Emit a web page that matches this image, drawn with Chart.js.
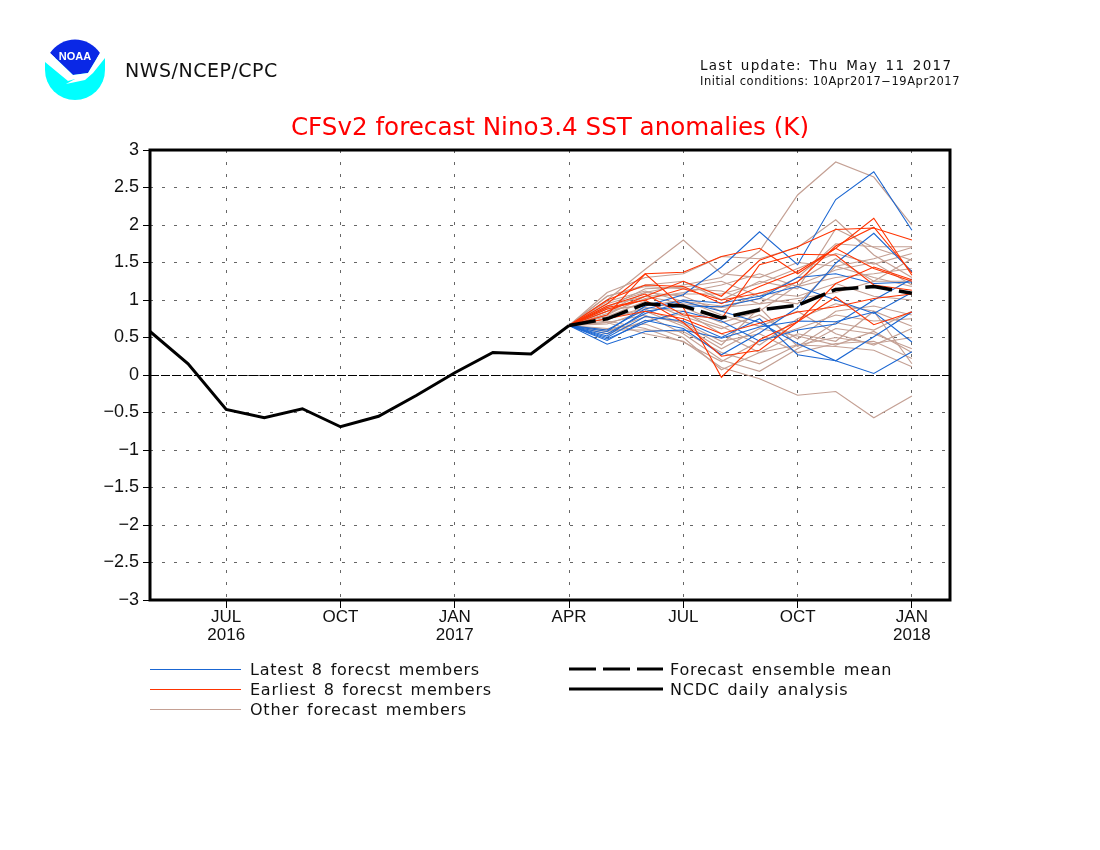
<!DOCTYPE html>
<html><head><meta charset="utf-8">
<script src="https://cdn.jsdelivr.net/npm/chart.js@4/dist/chart.umd.min.js"></script>
<style>
html,body{margin:0;padding:0;background:#fff;width:1100px;height:850px;overflow:hidden}
#wrap{position:relative;width:1100px;height:850px}
canvas{position:absolute;left:0;top:0}
.t{position:absolute;color:#111;white-space:nowrap;font-family:"DejaVu Sans",sans-serif;line-height:20px}
.sw{position:absolute;height:0}
</style></head><body>
<div id="wrap">
<canvas id="c" width="1100" height="850"></canvas>
<svg style="position:absolute;left:40px;top:34px" width="72" height="72" viewBox="40 34 72 72">
<path d="M45 58 L45 70 A30 30 0 0 0 105 70 L105 58 Z" fill="#00ffff"/>
<path d="M50 53 A30 30 0 0 1 100 53 L88 73 L73 75 Z" fill="#0a28e6"/>
<path d="M45 58 L50 53 L73 75 L88 73 L100 53 L105 58 L93 73 L85 80 L66 84 L75 79 L68 81 L45 62 Z" fill="#fff"/>
<text x="75" y="60" text-anchor="middle" font-family="Liberation Sans" font-weight="700" font-size="11" fill="#fff">NOAA</text>
</svg>
<div class="t" style="left:125px;top:60px;font-size:19px;letter-spacing:.5px">NWS/NCEP/CPC</div>
<div class="t" style="left:700px;top:55px;font-size:13.5px;letter-spacing:1.28px;word-spacing:2px">Last update: Thu May 11 2017</div>
<div class="t" style="left:700px;top:71px;font-size:11.5px;letter-spacing:.53px">Initial conditions: 10Apr2017&#8722;19Apr2017</div>
<div id="legend"></div>
</div>
<script>
const analysisMonths = ["MAY16","JUN16","JUL16","AUG16","SEP16","OCT16","NOV16","DEC16","JAN17","FEB17","MAR17","APR17"];
const forecastMonths = ["APR17","MAY17","JUN17","JUL17","AUG17","SEP17","OCT17","NOV17","DEC17","JAN18"];
const tickPositions = [2,5,8,11,14,17,20];
const tickLabels = [["JUL","2016"],["OCT"],["JAN","2017"],["APR"],["JUL"],["OCT"],["JAN","2018"]];
const forecastStart = 11;

const analysis = [0.58,0.15,-0.46,-0.57,-0.45,-0.69,-0.55,-0.27,0.03,0.30,0.28,0.66];
const ensembleMean = [0.66,0.75,0.95,0.92,0.76,0.87,0.93,1.14,1.18,1.09];

const latest1 = [0.66,0.58,0.92,1.07,1.44,1.91,1.47,2.34,2.71,1.93];
const latest2 = [0.66,0.46,0.73,0.62,0.27,0.56,0.90,1.49,1.89,1.38];
const latest3 = [0.66,0.41,0.58,0.60,0.49,0.64,0.72,0.71,0.84,0.44];
const latest4 = [0.66,0.52,0.85,0.92,0.91,1.02,1.30,1.35,1.22,1.24];
const latest5 = [0.66,0.50,0.78,0.72,0.50,0.75,0.27,0.19,0.02,0.31];
const latest6 = [0.66,0.55,0.82,0.98,0.85,0.70,0.42,0.19,0.51,0.84];
const latest7 = [0.66,0.60,0.88,1.00,0.96,1.05,1.18,1.00,0.82,1.10];
const latest8 = [0.66,0.48,0.70,0.85,0.72,0.45,0.60,0.68,1.00,1.28];

const earliest1 = [0.66,0.95,1.35,1.37,1.58,1.69,1.35,1.69,1.42,1.25];
const earliest2 = [0.66,0.85,1.05,1.25,1.05,1.53,1.71,1.94,1.96,1.80];
const earliest3 = [0.66,0.80,1.35,0.90,-0.03,0.47,0.71,1.04,0.67,0.84];
const earliest4 = [0.66,1.00,1.20,1.18,0.95,1.18,1.38,1.69,2.09,1.33];
const earliest5 = [0.66,0.90,1.00,1.15,1.00,1.09,1.24,1.72,1.97,1.36];
const earliest6 = [0.66,0.92,1.08,0.80,0.75,1.47,1.61,1.60,1.20,1.13];
const earliest7 = [0.66,0.75,0.85,0.75,0.55,0.69,0.84,0.91,1.02,1.08];
const earliest8 = [0.66,0.88,1.00,0.70,0.25,0.33,0.71,1.22,1.44,1.27];

const other1 = [0.66,0.85,1.10,1.20,1.30,1.65,2.40,2.84,2.64,2.00];
const other2 = [0.66,0.70,0.55,0.45,0.10,-0.05,-0.27,-0.22,-0.57,-0.28];
const other3 = [0.66,1.00,1.41,1.80,1.35,1.30,1.50,1.45,1.55,1.70];
const other4 = [0.66,1.10,1.30,1.35,1.58,1.55,1.70,2.07,1.60,1.30];
const other5 = [0.66,1.05,1.20,1.25,1.00,1.25,1.15,1.95,1.70,1.53];
const other6 = [0.66,0.90,1.15,1.17,1.25,1.05,1.30,1.75,1.71,1.71];
const other7 = [0.66,0.80,1.05,0.95,0.90,0.95,1.25,1.55,1.25,1.25];
const other8 = [0.66,0.85,0.95,0.90,0.70,0.85,1.20,1.40,1.50,1.20];
const other9 = [0.66,0.75,0.90,0.85,0.55,0.30,0.55,0.45,0.85,0.65];
const other10 = [0.66,0.60,0.60,0.58,0.30,0.15,0.40,0.50,0.42,0.50];
const other11 = [0.66,0.70,0.80,0.55,0.20,0.05,0.35,0.62,0.55,0.35];
const other12 = [0.66,0.62,0.68,0.50,0.07,0.30,0.40,0.38,0.33,0.11];
const other13 = [0.66,0.95,1.10,1.05,0.85,1.10,1.05,1.22,1.05,1.00];
const other14 = [0.66,0.82,1.02,1.10,1.20,1.35,1.18,1.30,1.35,1.42];
const other15 = [0.66,0.58,0.78,0.70,0.45,0.55,0.30,0.42,0.45,0.22];
const other16 = [0.66,0.72,0.62,0.44,0.18,0.45,0.62,0.80,0.72,0.75];
const other17 = [0.66,1.05,1.18,1.15,1.12,0.95,1.02,1.10,1.25,1.55];
const other18 = [0.66,0.78,0.98,0.78,0.62,0.80,0.48,0.85,0.92,0.80];
const other19 = [0.66,0.88,0.92,1.00,0.80,0.65,0.85,0.55,0.40,0.62];
const other20 = [0.66,0.68,0.85,0.65,0.35,0.62,0.52,0.40,0.58,0.30];
const other21 = [0.66,0.92,1.05,1.08,1.08,1.22,1.42,1.62,1.48,1.62];
const other22 = [0.66,0.55,0.72,0.82,0.65,0.40,0.75,0.95,0.85,0.15];
const other23 = [0.66,0.98,1.12,0.98,0.92,1.02,0.95,1.45,1.30,1.18];
const other24 = [0.66,0.75,0.88,0.68,0.40,0.90,0.38,0.70,0.60,0.85];

const latestMembers = [latest1,latest2,latest3,latest4,latest5,latest6,latest7,latest8];
const earliestMembers = [earliest1,earliest2,earliest3,earliest4,earliest5,earliest6,earliest7,earliest8];
const otherMembers = [other1,other2,other3,other4,other5,other6,other7,other8,other9,other10,other11,other12,other13,other14,other15,other16,other17,other18,other19,other20,other21,other22,other23,other24];

const legendLeft = ["Latest 8 forecst members","Earliest 8 forecst members","Other forecast members"];
const legendRight = ["Forecast ensemble mean","NCDC daily analysis"];

const BLUE="#1a66d2", RED="#ff3300", TAN="#c4a094";
const toPts=(arr,start)=>arr.map((y,i)=>({x:start+i,y}));
const line=(label,arr,start,color,width,dash)=>({label,data:toPts(arr,start),borderColor:color,borderWidth:width,borderDash:dash||[],pointRadius:0,tension:0,fill:false,borderJoinStyle:'miter'});

const datasets=[
  line("NCDC daily analysis",analysis,0,"#000",3),
  line("Forecast ensemble mean",ensembleMean,forecastStart,"#000",3.5,[27,7]),
  ...earliestMembers.map((m,i)=>line("Earliest 8 forecst members "+(i+1),m,forecastStart,RED,1.1)),
  ...latestMembers.map((m,i)=>line("Latest 8 forecst members "+(i+1),m,forecastStart,BLUE,1.1)),
  ...otherMembers.map((m,i)=>line("Other forecast members "+(i+1),m,forecastStart,TAN,1.2)),
];

const frame={id:'frame',
  beforeDatasetsDraw(ch){
    const {ctx,chartArea:a,scales:{y}}=ch;ctx.save();
    ctx.strokeStyle="#000";ctx.lineWidth=1;ctx.setLineDash([9,2]);
    const z=Math.round(y.getPixelForValue(0))+.5;
    ctx.beginPath();ctx.moveTo(a.left,z);ctx.lineTo(a.right,z);ctx.stroke();ctx.restore();
  },
  afterDatasetsDraw(ch){
    const {ctx,chartArea:a}=ch;ctx.save();
    ctx.strokeStyle="#000";ctx.lineWidth=3;ctx.setLineDash([]);
    ctx.strokeRect(a.left,a.top,a.right-a.left,a.bottom-a.top);ctx.restore();
  }};

new Chart(document.getElementById('c'),{
  type:'line',
  data:{datasets},
  plugins:[frame],
  options:{
    responsive:false,animation:false,devicePixelRatio:1,
    layout:{padding:{left:90,right:150,top:0,bottom:190}},
    plugins:{
      legend:{display:false},tooltip:{enabled:false},
      title:{display:true,fullSize:false,text:"CFSv2 forecast Nino3.4 SST anomalies (K)",color:"#f00",
        font:{family:"DejaVu Sans",size:24.6,weight:'normal',lineHeight:1.2},
        padding:{top:113.75,bottom:6.75}}
    },
    scales:{
      x:{type:'linear',min:0,max:21,
        afterBuildTicks(s){s.ticks=tickPositions.map(v=>({value:v}));},
        afterFit(s){s.height=60;},
        grid:{color:"#666",lineWidth:1,tickColor:"#000",tickBorderDash:[],tickLength:8,tickWidth:1},
        border:{display:false,dash:[3,9]},
        ticks:{color:"#111",font:{family:"Liberation Sans",size:17,lineHeight:1.08},padding:0,maxRotation:0,autoSkip:false,
          callback(v){const i=tickPositions.indexOf(v);return i<0?"":tickLabels[i];}}
      },
      y:{type:'linear',min:-3,max:3,
        afterFit(s){s.width=60;},
        grid:{color:"#666",lineWidth:1,tickColor:"#000",tickBorderDash:[],tickLength:7,tickWidth:1},
        border:{display:false,dash:[3,9]},
        ticks:{color:"#111",font:{family:"Liberation Sans",size:18},stepSize:.5,padding:4,autoSkip:false,
          callback(v){return String(v).replace("-","\u2212");}}
      }
    }
  }
});

const lg=document.getElementById('legend');
function addLegend(text,x0,x1,tx,y,style){
  const s=document.createElement('div');s.className='sw';
  s.style.cssText=`left:${x0}px;width:${x1-x0}px;top:${y}px;border-top:${style}`;
  lg.appendChild(s);
}
function addText(text,x,y){
  const d=document.createElement('div');d.className='t';d.textContent=text;
  d.style.cssText=`left:${x}px;top:${y-10}px;font-size:16px;letter-spacing:.76px;word-spacing:2px`;
  lg.appendChild(d);
}
const leftStyles=[`1px solid ${BLUE}`,`1px solid ${RED}`,`1px solid ${TAN}`];
legendLeft.forEach((t,i)=>{const y=669+20*i;addLegend(t,150,241,250,y,leftStyles[i]);addText(t,250,y+1);});
legendRight.forEach((t,i)=>{
  const y=668+20*i;
  const svg=document.createElementNS("http://www.w3.org/2000/svg","svg");
  svg.setAttribute("width","94");svg.setAttribute("height","6");
  svg.style.cssText=`position:absolute;left:569px;top:${y-2}px`;
  const l=document.createElementNS("http://www.w3.org/2000/svg","line");
  l.setAttribute("x1","0");l.setAttribute("x2","94");l.setAttribute("y1","3");l.setAttribute("y2","3");
  l.setAttribute("stroke","#000");l.setAttribute("stroke-width","3");
  if(i===0)l.setAttribute("stroke-dasharray","27 7");
  svg.appendChild(l);lg.appendChild(svg);
  addText(t,670,y+2);
});
</script>
</body></html>
